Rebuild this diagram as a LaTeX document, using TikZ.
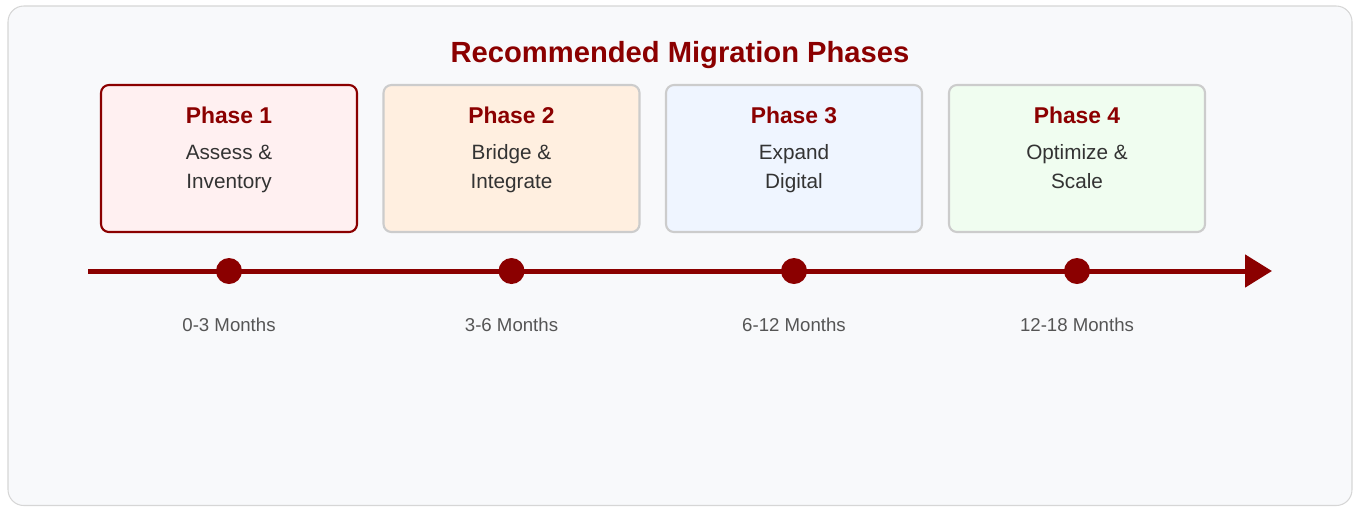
\documentclass[tikz,border=0pt]{standalone}
\usepackage{fontspec}
\setmainfont{Liberation Sans}
\usepackage{xcolor}
\usepackage{tikz}
\usetikzlibrary{positioning,arrows.meta,calc}
\definecolor{phasered}{RGB}{139,0,0}
\definecolor{panelbg}{RGB}{248,249,251}
\definecolor{panelline}{RGB}{214,214,214}
\definecolor{boxline}{RGB}{204,204,204}
\definecolor{bodytext}{RGB}{51,51,51}
\definecolor{monthtext}{RGB}{85,85,85}
\definecolor{assesspink}{RGB}{255,240,241}
\definecolor{bridgepeach}{RGB}{255,239,224}
\definecolor{expandblue}{RGB}{239,245,255}
\definecolor{scalegreen}{RGB}{240,253,240}
\tikzset{
  phasebox/.style={draw=boxline,line width=1.2pt,rounded corners=4.5pt,minimum width=5.12cm,minimum height=2.94cm,inner sep=0pt},
  phasename/.style={font=\fontsize{13}{16}\selectfont\bfseries,text=phasered,inner sep=0pt},
  phasedesc/.style={font=\fontsize{11.8}{16.4}\selectfont,text=bodytext,align=center,text depth=0pt,inner sep=0pt},
  milestone/.style={circle,fill=phasered,minimum size=0.52cm,inner sep=0pt},
  months/.style={font=\fontsize{10.6}{13}\selectfont,text=monthtext,inner sep=0pt},
  timeline/.style={-{Triangle[length=0.54cm,width=0.64cm]},line width=0.1cm,draw=phasered},
}
\begin{document}
\begin{tikzpicture}
  \useasboundingbox (0,0) rectangle (27.06,-10.12);
  % panel
  \draw[draw=panelline,fill=panelbg,line width=0.6pt,rounded corners=9pt] (0.16,-0.12) rectangle (27.04,-10.11);
  \node[font=\fontsize{16.6}{20}\selectfont\bfseries,text=phasered] (title) at (13.6,-1.1) {Recommended Migration Phases};
  % phase cards
  \node[phasebox,draw=phasered,fill=assesspink] (ph1) at (4.58,-3.17) {};
  \node[phasebox,fill=bridgepeach] (ph2) at (10.23,-3.17) {};
  \node[phasebox,fill=expandblue]  (ph3) at (15.88,-3.17) {};
  \node[phasebox,fill=scalegreen]  (ph4) at (21.54,-3.17) {};
  \node[phasename] (ph1name) at (4.58,-2.30)  {Phase 1};
  \node[phasename] (ph2name) at (10.23,-2.30) {Phase 2};
  \node[phasename] (ph3name) at (15.88,-2.30) {Phase 3};
  \node[phasename] (ph4name) at (21.54,-2.30) {Phase 4};
  \node[phasedesc] (ph1desc) at (4.58,-3.33)  {Assess \&\\Inventory};
  \node[phasedesc] (ph2desc) at (10.23,-3.33) {Bridge \&\\Integrate};
  \node[phasedesc] (ph3desc) at (15.88,-3.33) {Expand\\Digital};
  \node[phasedesc] (ph4desc) at (21.54,-3.33) {Optimize \&\\Scale};
  % timeline with milestones
  \coordinate (tstart) at (1.76,-5.42);
  \coordinate (tend) at (25.44,-5.42);
  \draw[timeline] (tstart) -- (tend);
  \node[milestone] (m1) at (4.58,-5.42) {};
  \node[milestone] (m2) at (10.23,-5.42) {};
  \node[milestone] (m3) at (15.88,-5.42) {};
  \node[milestone] (m4) at (21.54,-5.42) {};
  \node[months] (m1lbl) at (4.58,-6.50)  {0-3 Months};
  \node[months] (m2lbl) at (10.23,-6.50) {3-6 Months};
  \node[months] (m3lbl) at (15.88,-6.50) {6-12 Months};
  \node[months] (m4lbl) at (21.54,-6.50) {12-18 Months};
\end{tikzpicture}
\end{document}
